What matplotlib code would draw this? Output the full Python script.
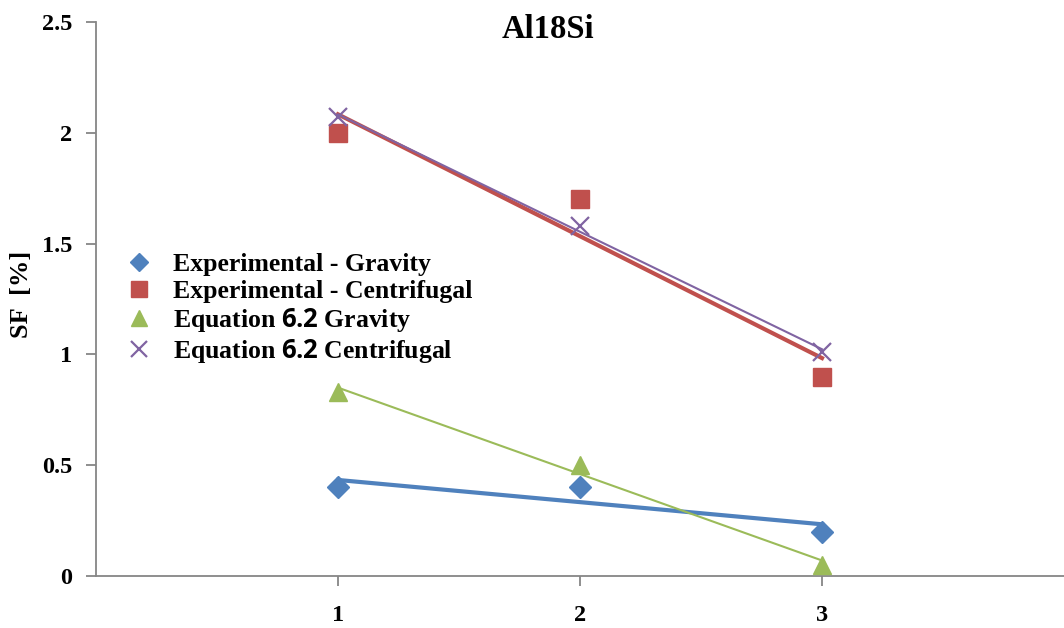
import numpy as np
import matplotlib
matplotlib.use("Agg")
import matplotlib.pyplot as plt

plt.rcParams['font.family'] = ['Liberation Serif', 'DejaVu Serif']
plt.rcParams['font.weight'] = 'bold'
plt.rcParams['mathtext.fontset'] = 'custom'
plt.rcParams['mathtext.sf'] = 'Open Sans:bold'

# Data
x_vals = [1, 2, 3]
exp_gravity = [0.40, 0.40, 0.20]
exp_centrifugal = [2.00, 1.70, 0.90]
eq_gravity = [0.83, 0.50, 0.05]
eq_centrifugal = [2.07, 1.58, 1.01]

labels = ["Experimental - Gravity", "Experimental - Centrifugal",
          r"Equation $\mathsf{6.2}$ Gravity", r"Equation $\mathsf{6.2}$ Centrifugal"]
y_ticks = [0, 0.5, 1, 1.5, 2, 2.5]
y_tick_labels = ["0", "0.5", "1", "1.5", "2", "2.5"]
x_ticks = [1, 2, 3]

fig = plt.figure(figsize=(10.64, 6.28), dpi=100)
ax = fig.add_axes([96/1064, 52/628, 1 - 96/1064, (576-22)/628])

series = [
    (exp_gravity, "D", "#4F81BD", 11, 3.0, dict()),
    (exp_centrifugal, "s", "#C0504D", 13, 3.0, dict()),
    (eq_gravity, "^", "#9BBB59", 13, 1.5, dict()),
    (eq_centrifugal, "x", "#8064A2", 13, 1.5, dict(markeredgewidth=1.6)),
]

handles = []
xs = np.array(x_vals, dtype=float)
for (vals, mk, col, ms, lw, extra), lab in zip(series, labels):
    h, = ax.plot(x_vals, vals, linestyle="none", marker=mk, color=col,
                 markersize=ms, label=lab, zorder=3, **extra)
    handles.append(h)
    # linear trendline through the series
    k, b = np.polyfit(xs, np.array(vals), 1)
    ax.plot(xs[[0, -1]], k * xs[[0, -1]] + b, color=col, linewidth=lw, zorder=2)

ax.set_xlim(0, 4)
ax.set_ylim(0, 2.5)
ax.set_xticks(x_ticks)
ax.set_xticklabels([str(v) for v in x_ticks])
ax.set_yticks(y_ticks)
ax.set_yticklabels(y_tick_labels)

for s in ["top", "right"]:
    ax.spines[s].set_visible(False)
for s in ["left", "bottom"]:
    ax.spines[s].set_color("#868686")
    ax.spines[s].set_linewidth(1.3)
ax.tick_params(axis="both", colors="#868686", length=7, width=1.3, labelsize=17.5,
               labelcolor="black")
ax.tick_params(axis="x", pad=14)
ax.tick_params(axis="y", pad=10)
for t in ax.get_xticklabels() + ax.get_yticklabels():
    t.set_fontweight("bold")

fig.text(22/1064, 1 - 294/628, "SF  [%]", rotation=90, ha="center", va="center",
         fontsize=19, fontweight="bold")
fig.text(548/1064, 1 - 29/628, "Al18Si", ha="center", va="center",
         fontsize=23.5, fontweight="bold")

leg = ax.legend(handles=handles, loc="upper left", bbox_to_anchor=(0.021, 0.601),
                frameon=False, fontsize=18.5, handlelength=1.0, handletextpad=0.8,
                labelspacing=0.13, borderaxespad=0, markerscale=0.85)
for t in leg.get_texts():
    t.set_fontweight("bold")

fig.savefig("out.png", dpi=100)
